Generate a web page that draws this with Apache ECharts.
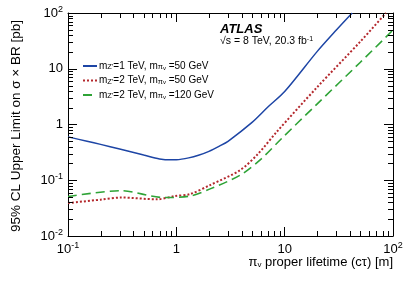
<!DOCTYPE html>
<html><head><meta charset="utf-8">
<script src="https://cdn.jsdelivr.net/npm/echarts@6/dist/echarts.min.js"></script>
<style>html,body{margin:0;padding:0;background:#fff}#c{width:415px;height:281px}</style>
</head><body><div id="c"></div>
<script>
// ---- data ----
const lifetimeBlue = [0.1,0.15,0.2,0.3,0.5,0.7,0.9,1.0,1.3,1.6,2,2.5,3,5,7,10,20,30,42];
const limitBlue    = [0.60,0.50,0.44,0.364,0.283,0.241,0.232,0.233,0.252,0.28,0.33,0.41,0.50,1.09,2.06,3.9,20.5,49.5,100];
const lifetimeRed  = [0.1,0.2,0.31,0.66,0.97,1.34,2.05,3.9,5.7,8.4,20,50,86];
const limitRed     = [0.039,0.0449,0.049,0.0455,0.052,0.0566,0.082,0.153,0.30,0.73,4.7,30.8,100];
const lifetimeGreen= [0.1,0.31,0.76,1.34,2.05,3.9,6.05,9.4,20,50,100];
const limitGreen   = [0.051,0.065,0.049,0.052,0.070,0.124,0.24,0.565,2.35,13.1,49.5];
const seriesNames  = ["m{sub|Z'}=1 TeV, m{sub|π}{subsub|v} =50 GeV",
                      "m{sub|Z'}=2 TeV, m{sub|π}{subsub|v} =50 GeV",
                      "m{sub|Z'}=2 TeV, m{sub|π}{subsub|v} =120 GeV"];
const xTickLabels = {'0.1':'10{sup|-1}','1':'1','10':'10','100':'10{sup|2}'};
const yTickLabels = {'0.01':'10{sup|-2}','0.1':'10{sup|-1}','1':'1','10':'10','100':'10{sup|2}'};
const xRange = [0.1, 100];
const yRange = [0.01, 100];

// minor tick values
const minorX = [], minorY = [];
for (let e=-1;e<2;e++) for (let m=2;m<=9;m++) minorX.push(m*Math.pow(10,e));
for (let e=-2;e<2;e++) for (let m=2;m<=9;m++) minorY.push(m*Math.pow(10,e));
const tickData = minorX.map(v=>[v,1,0]).concat(minorY.map(v=>[1,v,1]));

const FONT = "'Liberation Sans', Arial, sans-serif";
const pair = (xs,ys)=>xs.map((x,i)=>[x,ys[i]]);

const labRich = {
  sup:{fontSize:9,fontFamily:FONT,color:'#000',verticalAlign:'top',lineHeight:8}
};
const legRich = {
  sub:{fontSize:7.5,fontFamily:FONT,color:'#000',verticalAlign:'bottom',lineHeight:8},
  subsub:{fontSize:6,fontFamily:FONT,color:'#000',verticalAlign:'bottom',lineHeight:4}
};

function axisCommon(range, showLabel, map){
  return {
    type:'log', logBase:10, min:range[0], max:range[1],
    axisLine:{show:true,onZero:false,lineStyle:{color:'#000',width:1}},
    axisTick:{show:true,inside:true,length:9,lineStyle:{color:'#000'}},
    minorTick:{show:false}, splitLine:{show:false},
    axisLabel:{show:showLabel, margin:5, fontSize:13, fontFamily:FONT, color:'#000', lineHeight:16,
      formatter:v=>{const k=String(+Number(v).toPrecision(3)); return map[k]||'';}, rich:labRich}
  };
}

const chart = echarts.init(document.getElementById('c'), null, {renderer:'canvas'});
chart.setOption({
  animation:false,
  backgroundColor:'#fff',
  grid:{left:68,right:22,top:13,bottom:45,containLabel:false},
  xAxis:[Object.assign(axisCommon(xRange,true,xTickLabels),{position:'bottom'}),
         Object.assign(axisCommon(xRange,false,xTickLabels),{position:'top'})],
  yAxis:[Object.assign(axisCommon(yRange,true,yTickLabels),{position:'left'}),
         Object.assign(axisCommon(yRange,false,yTickLabels),{position:'right'})],
  legend:{
    data:seriesNames, orient:'vertical', left:77, top:56, itemWidth:14, itemHeight:10, itemGap:4.5,
    itemStyle:{opacity:0},
    textStyle:{fontSize:10,fontFamily:FONT,color:'#000',rich:legRich,padding:[0,0,0,-3]}
  },
  graphic:[
    {type:'text', left:220, top:23, style:{text:'ATLAS', font:'italic bold 13px '+FONT, fill:'#000'}},
    {type:'text', left:220, top:36, style:{text:'√s = 8 TeV, 20.3 fb{sup|-1}', font:'10.5px '+FONT, fill:'#000',
      rich:{sup:{fontSize:7,fontFamily:FONT,verticalAlign:'top',lineHeight:6}}}},
    {type:'text', right:22, top:256, style:{text:'π{sub|v} proper lifetime (cτ) [m]', font:'13px '+FONT, fill:'#000',
      rich:{sub:{fontSize:8,fontFamily:FONT,verticalAlign:'bottom',lineHeight:8}}}},
    {type:'text', x:16, y:126, rotation:Math.PI/2,
      style:{text:'95% CL Upper Limit on σ × BR [pb]', font:'13.5px '+FONT, fill:'#000', align:'center', verticalAlign:'middle'}}
  ],
  series:[
    {name:seriesNames[0], type:'line', data:pair(lifetimeBlue,limitBlue), showSymbol:false, symbol:'none', smooth:0.3,
     color:'#1d45a5', lineStyle:{color:'#1d45a5',width:1.5,type:'solid'}},
    {name:seriesNames[1], type:'line', data:pair(lifetimeRed,limitRed), showSymbol:false, symbol:'none', smooth:0.3,
     color:'#b4282d', lineStyle:{color:'#b4282d',width:2,type:[2,2]}},
    {name:seriesNames[2], type:'line', data:pair(lifetimeGreen,limitGreen), showSymbol:false, symbol:'none', smooth:0.3,
     color:'#2ea336', lineStyle:{color:'#2ea336',width:1.6,type:[9,5]}},
    {type:'custom', data:tickData, encode:{x:0,y:1}, clip:false, silent:true, z:5,
     renderItem:function(params, api){
       const kind = api.value(2);
       const s = {stroke:'#000', lineWidth:1};
       if (kind===0){
         const v = api.value(0);
         const b = api.coord([v, yRange[0]]), t = api.coord([v, yRange[1]]);
         const x = Math.round(b[0])+0.5;
         return {type:'group', children:[
           {type:'line', shape:{x1:x,y1:b[1],x2:x,y2:b[1]-5}, style:s},
           {type:'line', shape:{x1:x,y1:t[1],x2:x,y2:t[1]+5}, style:s}]};
       } else {
         const v = api.value(1);
         const l = api.coord([xRange[0], v]), r = api.coord([xRange[1], v]);
         const y = Math.round(l[1])+0.5;
         return {type:'group', children:[
           {type:'line', shape:{x1:l[0],y1:y,x2:l[0]+5,y2:y}, style:s},
           {type:'line', shape:{x1:r[0],y1:y,x2:r[0]-5,y2:y}, style:s}]};
       }
     }}
  ]
});
</script></body></html>
